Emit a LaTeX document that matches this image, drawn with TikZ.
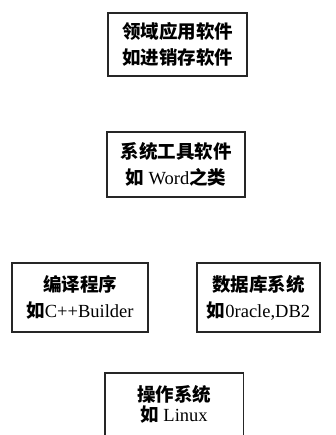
\documentclass[tikz,border=0pt]{standalone}
\usepackage{fontspec}
\setmainfont{Liberation Serif}
\newfontfamily\cjkfont{Noto Sans CJK SC}
\newcommand{\C}[1]{{\cjkfont\bfseries\fontsize{18.5}{26}\selectfont #1}}
\begin{document}
\begin{tikzpicture}[x=1pt,y=-1pt,
  box/.style={draw=black!85, line width=1.4pt, inner sep=0pt, align=center,
    font=\fontsize{18.5}{26}\selectfont},
  open/.style={draw=none, inner sep=0pt, align=center,
    font=\fontsize{18.5}{22}\selectfont}]
\useasboundingbox (0,0) rectangle (335,435);
\node[box, minimum width=139pt, minimum height=63pt] (b1) at (177.5,44.5)
  {\C{领域应用软件}\\\C{如进销存软件}};
\node[box, minimum width=138pt, minimum height=65pt] (b2) at (176,164.5)
  {\C{系统工具软件}\\\C{如} Word\C{之类}};
\node[box, minimum width=136pt, minimum height=69pt] (b3) at (80,297.5)
  {\C{编译程序}\\\C{如}C++Builder};
\node[box, minimum width=123pt, minimum height=69pt] (b4) at (258.5,297.5)
  {\C{数据库系统}\\\C{如}0racle,DB2};
\node[open, minimum width=138pt, minimum height=62pt] (b5) at (174,404)
  {\C{操作系统}\\[-2pt]\C{如} Linux};
\draw[draw=black!85, line width=1.4pt] ([yshift=-70pt]b5.north west) -- (b5.north west)
  -- (b5.north east) -- ([yshift=-70pt]b5.north east);
\end{tikzpicture}
\end{document}
